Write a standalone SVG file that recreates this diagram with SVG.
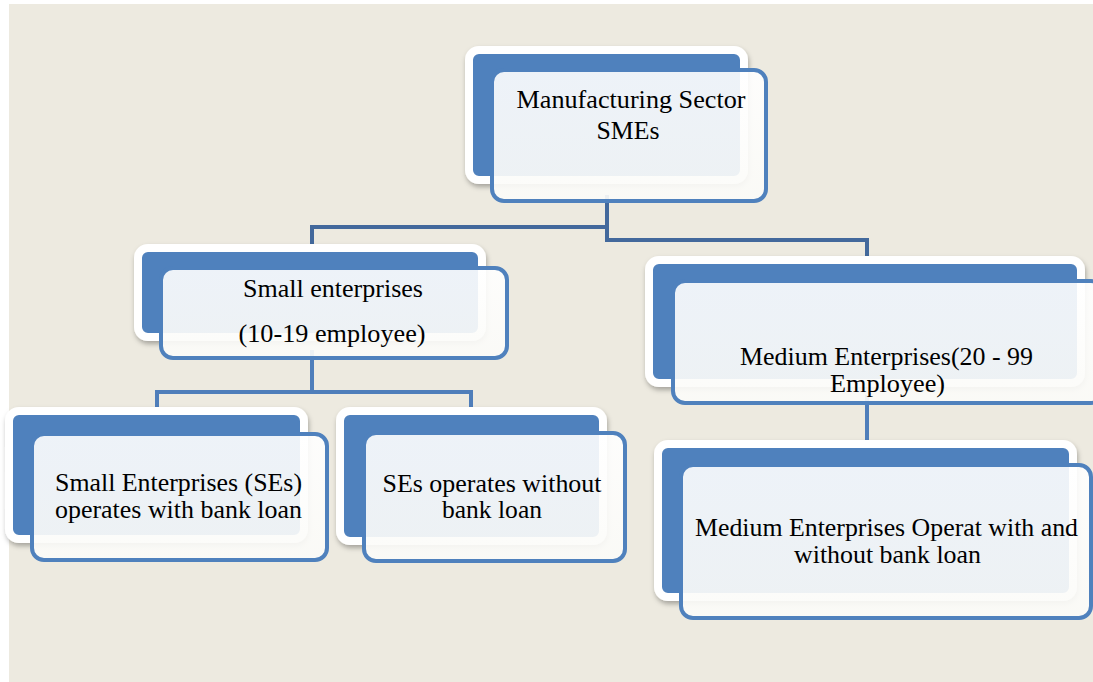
<svg xmlns="http://www.w3.org/2000/svg" width="1093" height="682" viewBox="0 0 1093 682">
<defs>
<filter id="sh" x="-10%" y="-10%" width="125%" height="130%">
<feDropShadow dx="1" dy="3" stdDeviation="2.5" flood-color="#000" flood-opacity="0.3"/>
</filter>
<linearGradient id="fg" x1="0" y1="0" x2="0" y2="1">
<stop offset="0" stop-color="#ffffff" stop-opacity="0.9"/>
<stop offset="1" stop-color="#fbfbf8" stop-opacity="0.92"/>
</linearGradient>
</defs>
<style>
.back{fill:#4F81BD;stroke:#ffffff;stroke-width:8;filter:url(#sh);}
.front{fill:url(#fg);stroke:#4F81BD;stroke-width:4;}
.t{font-family:"Liberation Serif","Times New Roman",serif;font-size:25px;fill:#000;text-anchor:middle;}
.c1{fill:none;stroke:#43699C;stroke-width:4;}
.c2{fill:none;stroke:#4F7EBA;stroke-width:4;}
</style>
<rect x="0" y="0" width="1093" height="682" fill="#ffffff"/>
<rect x="9" y="4" width="1084" height="678" fill="#EDEAE0"/>
<g id="connectors">
<path class="c1" d="M607,195 V227 H312 V256"/>
<path class="c1" d="M607,195 V240 H867 V268"/>
<path class="c2" d="M312,350 V392 H157 V418"/>
<path class="c2" d="M312,392 H471 V418"/>
<path class="c2" d="M867,395 V452"/>
</g>
<g id="n-top">
<rect class="back" x="469" y="50" width="275" height="130" rx="10"/>
<rect class="front" x="492" y="70" width="274" height="131" rx="12"/>
<text class="t" x="631" y="108" textLength="229" lengthAdjust="spacingAndGlyphs">Manufacturing Sector</text>
<text class="t" x="628" y="139" textLength="63" lengthAdjust="spacingAndGlyphs">SMEs</text>
</g>
<g id="n-small">
<rect class="back" x="138" y="248" width="344" height="89" rx="10"/>
<rect class="front" x="161" y="268" width="346" height="90" rx="12"/>
<text class="t" x="333" y="297" textLength="180" lengthAdjust="spacingAndGlyphs">Small enterprises</text>
<text class="t" x="332" y="342" textLength="187" lengthAdjust="spacingAndGlyphs">(10-19 employee)</text>
</g>
<g id="n-se-loan">
<rect class="back" x="9" y="411" width="295" height="128" rx="10"/>
<rect class="front" x="32" y="434" width="295" height="126" rx="12"/>
<text class="t" x="178.5" y="491" textLength="247" lengthAdjust="spacingAndGlyphs">Small Enterprises (SEs)</text>
<text class="t" x="178.5" y="518" textLength="247" lengthAdjust="spacingAndGlyphs">operates with bank loan</text>
</g>
<g id="n-se-noloan">
<rect class="back" x="340" y="411" width="263" height="130" rx="10"/>
<rect class="front" x="364" y="433" width="261" height="128" rx="12"/>
<text class="t" x="492" y="492" textLength="219" lengthAdjust="spacingAndGlyphs">SEs operates without</text>
<text class="t" x="492" y="518" textLength="100" lengthAdjust="spacingAndGlyphs">bank loan</text>
</g>
<g id="n-medium">
<rect class="back" x="649" y="260" width="432" height="123" rx="10"/>
<rect class="front" x="673" y="281" width="430" height="122" rx="12"/>
<text class="t" x="886.5" y="365" textLength="293" lengthAdjust="spacingAndGlyphs">Medium Enterprises(20 - 99</text>
<text class="t" x="887.5" y="392" textLength="115" lengthAdjust="spacingAndGlyphs">Employee)</text>
</g>
<g id="n-medium-child">
<rect class="back" x="658" y="444" width="415" height="153" rx="10"/>
<rect class="front" x="681" y="465" width="410" height="153" rx="12"/>
<text class="t" x="886.5" y="536" textLength="383" lengthAdjust="spacingAndGlyphs">Medium Enterprises Operat with and</text>
<text class="t" x="887.5" y="563" textLength="187" lengthAdjust="spacingAndGlyphs">without bank loan</text>
</g>
</svg>
